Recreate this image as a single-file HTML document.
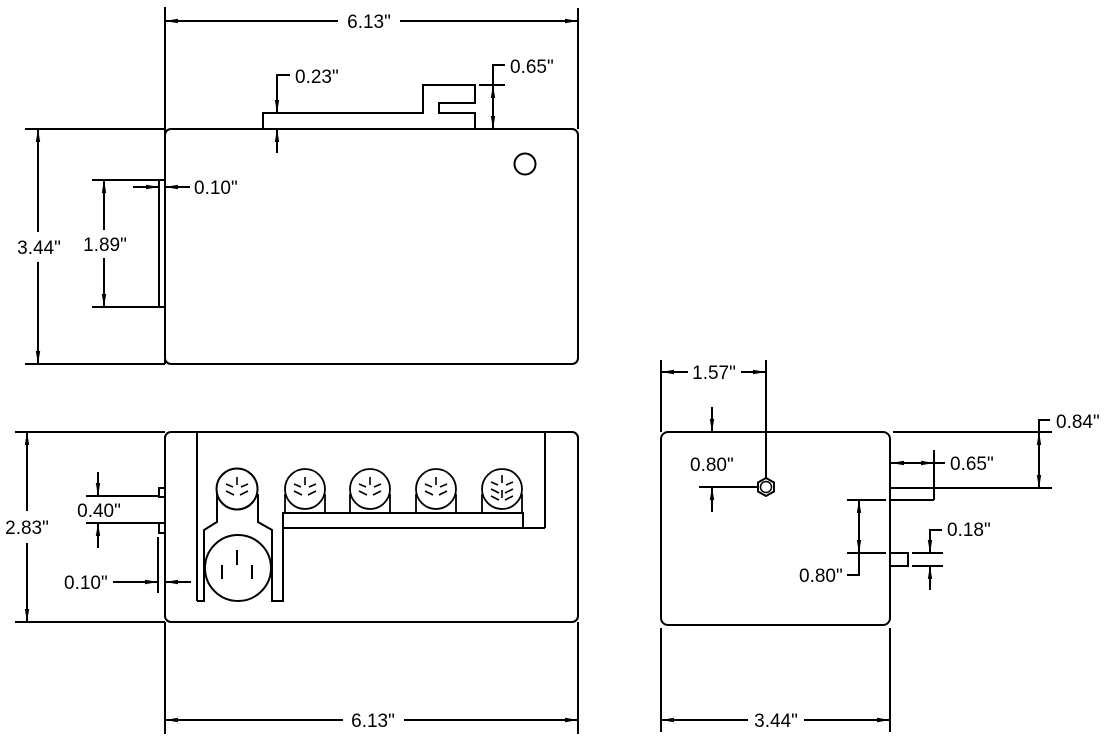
<!DOCTYPE html>
<html><head><meta charset="utf-8"><style>
html,body{margin:0;padding:0;background:#fff;}
svg{display:block;}
text{font-family:"Liberation Sans",Arial,sans-serif;font-size:19px;fill:#000;}
</style></head><body>
<svg width="1112" height="754" viewBox="0 0 1112 754" xmlns="http://www.w3.org/2000/svg">
<defs>
<marker id="a" markerUnits="userSpaceOnUse" markerWidth="14" markerHeight="8" refX="13" refY="4" orient="auto-start-reverse"><path d="M0,1.8 L13,4 L0,6.2 Z" fill="#000"/></marker>
</defs>
<g fill="none" stroke="#000" stroke-width="2">
<!-- ===== TOP VIEW ===== -->
<rect x="165" y="129" width="413" height="235" rx="6"/>
<line x1="165" y1="7" x2="165" y2="364"/>
<line x1="578" y1="8" x2="578" y2="129"/>
<line x1="165" y1="21" x2="338" y2="21" marker-start="url(#a)"/>
<line x1="400" y1="21" x2="578" y2="21" marker-end="url(#a)"/>
<line x1="25" y1="129" x2="165" y2="129"/>
<line x1="25" y1="364" x2="165" y2="364"/>
<line x1="38" y1="129" x2="38" y2="232" marker-start="url(#a)"/>
<line x1="38" y1="262" x2="38" y2="364" marker-end="url(#a)"/>
<rect x="159" y="180" width="6" height="127"/>
<line x1="92" y1="180" x2="159" y2="180"/>
<line x1="92" y1="307" x2="159" y2="307"/>
<line x1="104" y1="180" x2="104" y2="230" marker-start="url(#a)"/>
<line x1="104" y1="258" x2="104" y2="307" marker-end="url(#a)"/>
<line x1="133" y1="187" x2="159" y2="187" marker-end="url(#a)"/>
<line x1="190" y1="187" x2="165" y2="187" marker-end="url(#a)"/>
<polyline points="263,129 263,113 423,113 423,85 475,85 475,103 439,103 439,113 475,113 475,129"/>
<polyline points="290,75 277,75 277,113" marker-end="url(#a)"/>
<line x1="277" y1="153" x2="277" y2="129" marker-end="url(#a)"/>
<line x1="479" y1="85" x2="505" y2="85"/>
<line x1="493" y1="85" x2="493" y2="129" marker-start="url(#a)" marker-end="url(#a)"/>
<polyline points="493,85 493,65 505,65"/>
<circle cx="525" cy="164" r="10.5"/>

<!-- ===== FRONT VIEW ===== -->
<rect x="165" y="432" width="413" height="190" rx="6"/>
<line x1="165" y1="622" x2="165" y2="734"/>
<line x1="578" y1="622" x2="578" y2="734"/>
<line x1="165" y1="720" x2="343" y2="720" marker-start="url(#a)"/>
<line x1="404" y1="720" x2="578" y2="720" marker-end="url(#a)"/>
<line x1="15" y1="432" x2="165" y2="432"/>
<line x1="15" y1="622" x2="165" y2="622"/>
<line x1="27" y1="432" x2="27" y2="511" marker-start="url(#a)"/>
<line x1="27" y1="543" x2="27" y2="622" marker-end="url(#a)"/>
<line x1="197" y1="432" x2="197" y2="601"/>
<polyline points="197,601 204,601 204,530 217,522 217,494"/>
<polyline points="258,494 258,522 272,530 272,601 283,601 283,513 523,513 523,528"/>
<line x1="283" y1="528" x2="545" y2="528"/>
<line x1="545" y1="432" x2="545" y2="528"/>
<circle cx="237" cy="489" r="20.5"/>
<circle cx="238" cy="568" r="33"/>
<line x1="222" y1="565" x2="222" y2="579"/>
<line x1="237" y1="550" x2="237" y2="565"/>
<line x1="252" y1="565" x2="252" y2="579"/>
<g stroke-width="1.8">
<circle cx="305" cy="489" r="20"/><line x1="285" y1="494" x2="285" y2="513"/><line x1="325" y1="494" x2="325" y2="513"/>
<circle cx="370" cy="489" r="20"/><line x1="350" y1="494" x2="350" y2="513"/><line x1="390" y1="494" x2="390" y2="513"/>
<circle cx="436" cy="489" r="20"/><line x1="416" y1="494" x2="416" y2="513"/><line x1="456" y1="494" x2="456" y2="513"/>
<circle cx="502" cy="489" r="20"/><line x1="482" y1="494" x2="482" y2="513"/><line x1="522" y1="494" x2="522" y2="513"/>
</g>
<g stroke-width="1.6">
<path d="M237,477v8 M226,484l7,3 M248,484l-7,3 M226,491l8,4 M248,491l-8,4"/>
<path d="M305,477v8 M294,484l7,3 M316,484l-7,3 M294,491l8,4 M316,491l-8,4"/>
<path d="M370,477v8 M359,484l7,3 M381,484l-7,3 M359,491l8,4 M381,491l-8,4"/>
<path d="M436,477v8 M425,484l7,3 M447,484l-7,3 M425,491l8,4 M447,491l-8,4"/>
<path d="M502,475v8 M502,490v8 M491,482l7,3 M513,482l-7,3 M491,489l8,4 M513,489l-8,4 M491,496l8,4 M513,496l-8,4"/>
</g>
<rect x="159" y="488" width="6" height="9"/>
<rect x="159" y="523" width="6" height="10"/>
<line x1="86" y1="496" x2="159" y2="496"/>
<line x1="86" y1="523" x2="159" y2="523"/>
<line x1="98" y1="472" x2="98" y2="496" marker-end="url(#a)"/>
<line x1="98" y1="548" x2="98" y2="523" marker-end="url(#a)"/>
<line x1="158" y1="537" x2="158" y2="593"/>
<line x1="113" y1="582" x2="158" y2="582" marker-end="url(#a)"/>
<line x1="191" y1="582" x2="165" y2="582" marker-end="url(#a)"/>

<!-- ===== RIGHT VIEW ===== -->
<rect x="661" y="432" width="229" height="193" rx="7"/>
<line x1="661" y1="360" x2="661" y2="432"/>
<line x1="766" y1="360" x2="766" y2="478"/>
<line x1="661" y1="372" x2="688" y2="372" marker-start="url(#a)"/>
<line x1="741" y1="372" x2="766" y2="372" marker-end="url(#a)"/>
<line x1="661" y1="628" x2="661" y2="732"/>
<line x1="890" y1="628" x2="890" y2="732"/>
<line x1="661" y1="720" x2="748" y2="720" marker-start="url(#a)"/>
<line x1="804" y1="720" x2="890" y2="720" marker-end="url(#a)"/>
<polygon points="766,478 774,482.5 774,491.5 766,496 758,491.5 758,482.5"/>
<circle cx="766" cy="487" r="5.5" stroke-width="1.5"/>
<line x1="712" y1="407" x2="712" y2="432" marker-end="url(#a)"/>
<line x1="699" y1="487" x2="757" y2="487"/>
<line x1="712" y1="512" x2="712" y2="487" marker-end="url(#a)"/>
<line x1="893" y1="432" x2="1052" y2="432"/>
<line x1="890" y1="488" x2="1052" y2="488"/>
<line x1="890" y1="500" x2="934" y2="500"/>
<line x1="934" y1="450" x2="934" y2="500"/>
<line x1="1039" y1="432" x2="1039" y2="488" marker-start="url(#a)" marker-end="url(#a)"/>
<polyline points="1039,432 1039,420 1050,420"/>
<line x1="891" y1="463" x2="934" y2="463" marker-start="url(#a)" marker-end="url(#a)"/>
<line x1="934" y1="463" x2="945" y2="463"/>
<line x1="847" y1="500" x2="886" y2="500"/>
<line x1="847" y1="553" x2="886" y2="553"/>
<line x1="859" y1="500" x2="859" y2="553" marker-start="url(#a)" marker-end="url(#a)"/>
<polyline points="859,553 859,575 847,575"/>
<rect x="890" y="553" width="18" height="13"/>
<line x1="912" y1="553" x2="943" y2="553"/>
<line x1="912" y1="566" x2="943" y2="566"/>
<polyline points="942,530 930,530 930,553" marker-end="url(#a)"/>
<line x1="930" y1="590" x2="930" y2="566" marker-end="url(#a)"/>
</g>
<g>
<text x="369" y="28" text-anchor="middle">6.13"</text>
<text x="295" y="83">0.23"</text>
<text x="510" y="73">0.65"</text>
<text x="39" y="254" text-anchor="middle">3.44"</text>
<text x="105" y="251" text-anchor="middle">1.89"</text>
<text x="194" y="194">0.10"</text>
<text x="27" y="534" text-anchor="middle">2.83"</text>
<text x="99" y="517" text-anchor="middle">0.40"</text>
<text x="64" y="589">0.10"</text>
<text x="373" y="727" text-anchor="middle">6.13"</text>
<text x="714" y="379" text-anchor="middle">1.57"</text>
<text x="690" y="471">0.80"</text>
<text x="1056" y="428">0.84"</text>
<text x="950" y="470">0.65"</text>
<text x="947" y="536">0.18"</text>
<text x="799" y="582">0.80"</text>
<text x="776" y="727" text-anchor="middle">3.44"</text>
</g>
</svg>
</body></html>
